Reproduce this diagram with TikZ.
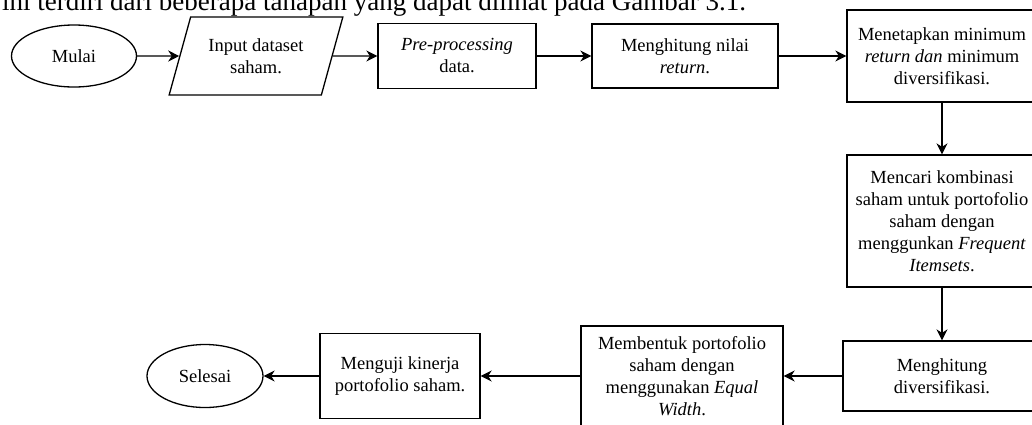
\documentclass[tikz,border=0pt]{standalone}
\usepackage{fontspec}
\setmainfont{Liberation Serif}
\usetikzlibrary{arrows.meta, shapes.geometric}

\begin{document}
\begin{tikzpicture}[x=1pt, y=-1pt,
  proses/.style={draw, line width=1.3pt, rectangle, align=center, inner sep=2pt,
    font=\fontsize{18.5}{22}\selectfont},
  terminal/.style={draw, line width=1.3pt, ellipse, inner sep=0pt,
    font=\fontsize{18.5}{22}\selectfont},
  masukan/.style={draw, line width=1.3pt, trapezium, trapezium stretches=true,
    trapezium left angle=66, trapezium right angle=114, align=center, inner sep=0pt,
    font=\fontsize{18.5}{22}\selectfont},
  panah/.style={line width=1.3pt, -{Stealth[length=11pt, width=11pt, inset=3.5pt]}}]
  \useasboundingbox (0,0) rectangle (1032,424);
  % kalimat di atas gambar (terpotong)
  \node[anchor=base west, inner sep=0pt, font=\fontsize{27}{30}\selectfont] (kalimat) at (2,10)
    {ini terdiri dari beberapa tahapan yang dapat dilihat pada Gambar 3.1.};
  % baris atas
  \node[terminal, minimum width=125pt, minimum height=62pt] (mulai) at (74,56) {Mulai};
  \node[masukan, minimum width=174pt, minimum height=78pt] (input) at (256,56) {Input dataset\\saham.};
  \node[proses, minimum width=158pt, minimum height=65pt] (pre) at (457,56) {\textit{Pre-processing}\\data.};
  \node[proses, minimum width=186pt, minimum height=64pt] (ret) at (685,56) {Menghitung nilai\\\textit{return}.};
  \node[proses, minimum width=190pt, minimum height=92pt] (tetap) at (942,56)
    {Menetapkan minimum\\\textit{return dan} minimum\\diversifikasi.};
  % kolom kanan
  \node[proses, minimum width=190pt, minimum height=132pt] (cari) at (942,221)
    {Mencari kombinasi\\saham untuk portofolio\\saham dengan\\menggunkan \textit{Frequent}\\\textit{Itemsets}.};
  \node[proses, minimum width=198pt, minimum height=70pt] (divers) at (942,376) {Menghitung\\diversifikasi.};
  % baris bawah
  \node[proses, minimum width=202pt, minimum height=100pt] (bentuk) at (682,376)
    {Membentuk portofolio\\saham dengan\\menggunakan \textit{Equal}\\\textit{Width}.};
  \node[proses, minimum width=160pt, minimum height=85pt] (uji) at (400,376) {Menguji kinerja\\portofolio saham.};
  \node[terminal, minimum width=116pt, minimum height=63pt] (selesai) at (205,376) {Selesai};
  % alur
  \draw[panah] (mulai) -- (input);
  \draw[panah] (input) -- (pre);
  \draw[panah] (pre) -- (ret);
  \draw[panah] (ret) -- (tetap);
  \draw[panah] (tetap) -- (cari);
  \draw[panah] (cari) -- (divers);
  \draw[panah] (divers) -- (bentuk);
  \draw[panah] (bentuk) -- (uji);
  \draw[panah] (uji) -- (selesai);
\end{tikzpicture}
\end{document}
